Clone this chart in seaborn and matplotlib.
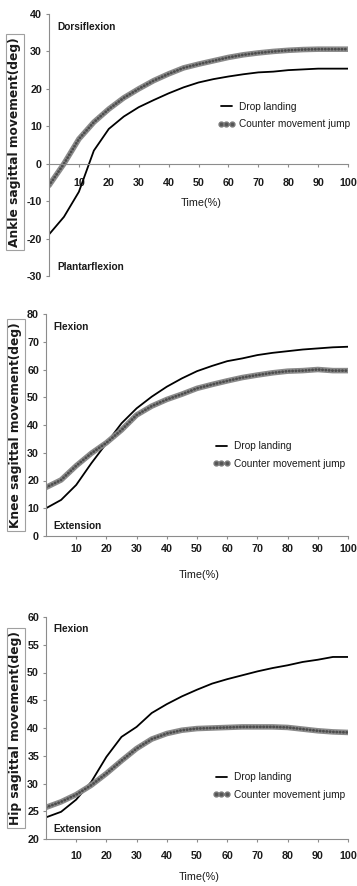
import matplotlib
matplotlib.use("Agg")
import matplotlib.pyplot as plt
import seaborn as sns
import pandas as pd
from matplotlib.lines import Line2D

# ---------------- data ----------------
time = [0, 5, 10, 15, 20, 25, 30, 35, 40, 45, 50, 55, 60, 65, 70, 75, 80, 85, 90, 95, 100]

ankle_drop = [-18.9, -14.2, -7.5, 3.5, 9.3, 12.6, 15.1, 17.0, 18.8, 20.4, 21.7,
              22.6, 23.3, 23.9, 24.4, 24.6, 25.0, 25.2, 25.4, 25.4, 25.4]
ankle_cmj = [-5.8, 0.0, 6.6, 11.1, 14.6, 17.6, 20.0, 22.2, 24.0, 25.6, 26.6,
             27.5, 28.4, 29.1, 29.6, 30.0, 30.3, 30.5, 30.6, 30.6, 30.6]

knee_drop = [10.0, 13.0, 18.4, 26.2, 33.4, 40.6, 46.0, 50.2, 53.8, 56.8, 59.4,
             61.3, 63.0, 64.0, 65.2, 66.0, 66.6, 67.2, 67.6, 68.0, 68.2]
knee_cmj = [17.5, 20.2, 25.3, 29.8, 33.6, 38.2, 43.6, 46.8, 49.2, 51.1, 53.2,
            54.6, 55.9, 57.1, 58.0, 58.8, 59.4, 59.6, 60.0, 59.6, 59.6]

hip_drop = [23.9, 24.9, 27.1, 30.3, 34.8, 38.4, 40.2, 42.7, 44.3, 45.7, 46.9,
            48.0, 48.8, 49.5, 50.2, 50.8, 51.3, 51.9, 52.3, 52.8, 52.8]
hip_cmj = [25.7, 26.7, 28.0, 29.7, 31.8, 34.1, 36.3, 38.0, 39.0, 39.6, 39.9,
           40.0, 40.1, 40.2, 40.2, 40.2, 40.1, 39.8, 39.5, 39.3, 39.2]

series_labels = ["Drop landing", "Counter movement jump"]
xticks = [10, 20, 30, 40, 50, 60, 70, 80, 90, 100]
ankle_yticks = [-30, -20, -10, 0, 10, 20, 30, 40]
knee_yticks = [0, 10, 20, 30, 40, 50, 60, 70, 80]
hip_yticks = [20, 25, 30, 35, 40, 45, 50, 55, 60]

ylabels = ["Ankle sagittal movement(deg)", "Knee sagittal movement(deg)",
           "Hip sagittal movement(deg)"]
top_notes = ["Dorsiflexion", "Flexion", "Flexion"]
bottom_notes = ["Plantarflexion", "Extension", "Extension"]

# ---------------- style ----------------
sns.set_theme(style="white")
plt.rcParams["font.family"] = ["Liberation Sans", "DejaVu Sans"]
plt.rcParams["axes.unicode_minus"] = False

W, H = 357, 886
fig = plt.figure(figsize=(W / 100, H / 100), dpi=100)

# pixel layout: (left, right, top, bottom)
layouts = [(49, 348, 14, 276), (46, 348, 314, 536), (46, 348, 617, 839)]
panels = [
    (ankle_drop, ankle_cmj, ankle_yticks),
    (knee_drop, knee_cmj, knee_yticks),
    (hip_drop, hip_cmj, hip_yticks),
]
xtick_pads = [7.5, 3.0, 6.0]
xlabel_y_px = [203, 575, 877]
ylabel_x_px = [15, 16, 16]
ylabel_y_px = [142, 425, 728]
legend_px = [(218, 115.5), (213, 455), (213, 786)]

axis_col = "#8c8c8c"
text_col = "#1a1a1a"

for i, ((drop, cmj, yticks), (l, r, t, b)) in enumerate(zip(panels, layouts)):
    ax = fig.add_axes([l / W, 1 - b / H, (r - l) / W, (b - t) / H])
    df = pd.DataFrame({"Time": time, "Drop": drop, "CMJ": cmj})

    sns.lineplot(data=df, x="Time", y="Drop", color="black", lw=1.3, ax=ax)
    sns.lineplot(data=df, x="Time", y="CMJ", color="#8a8a8a", lw=4.0, ax=ax)
    sns.lineplot(data=df, x="Time", y="CMJ", color="#4d4d4d", lw=2.0, ax=ax,
                 linestyle=(0, (0.1, 1.1)), dash_capstyle="round")

    ax.set_xlim(0, 100)
    ax.set_ylim(yticks[0], yticks[-1])
    ax.set_xticks(xticks)
    ax.set_yticks(yticks)

    for s in ["top", "right"]:
        ax.spines[s].set_visible(False)
    for s in ["left", "bottom"]:
        ax.spines[s].set_color(axis_col)
        ax.spines[s].set_linewidth(0.8)
    if i == 0:
        ax.spines["bottom"].set_position(("data", 0))

    ax.tick_params(axis="both", which="major", bottom=True, left=True,
                   direction="out", length=2.5, width=0.8, color=axis_col,
                   labelsize=7.7, labelcolor=text_col)
    ax.tick_params(axis="x", pad=xtick_pads[i])
    ax.tick_params(axis="y", pad=2.5)
    for lab in ax.get_xticklabels() + ax.get_yticklabels():
        lab.set_fontweight("bold")

    # x label
    ax.set_xlabel("Time(%)", fontsize=7.8, color=text_col)
    ax.xaxis.label.set_va("center")
    ax.xaxis.set_label_coords(0.508, (b - xlabel_y_px[i]) / (b - t))

    # y label in a box
    ax.set_ylabel(ylabels[i], fontsize=8.8, fontweight="bold", color=text_col,
                  family="DejaVu Sans",
                  bbox=dict(boxstyle="square,pad=0.22", fc="white",
                            ec="#a0a0a0", lw=0.8))
    ax.yaxis.label.set_va("center")
    ax.yaxis.set_label_coords((ylabel_x_px[i] - l) / (r - l),
                              (b - ylabel_y_px[i]) / (b - t))

    # region notes
    top_y = [27, 327, 629][i]
    bot_y = [267, 526, 829][i]
    note_x = [57, 53, 53][i]
    ax.text((note_x - l) / (r - l), (b - top_y) / (b - t), top_notes[i],
            transform=ax.transAxes, ha="left", va="center", fontsize=7.3,
            fontweight="bold", color=text_col)
    ax.text((note_x - l) / (r - l), (b - bot_y) / (b - t), bottom_notes[i],
            transform=ax.transAxes, ha="left", va="center", fontsize=7.3,
            fontweight="bold", color=text_col)

    # legend
    h_drop = Line2D([], [], color="black", lw=1.3)
    h_cmj = Line2D([], [], color="#8a8a8a", lw=1.8, marker="o", ms=3.5,
                   mfc="#555555", mec="#7a7a7a")
    lx, ly = legend_px[i]
    leg = ax.legend([h_drop, h_cmj], series_labels, loc="center left",
                    bbox_to_anchor=(lx / W, 1 - ly / H),
                    bbox_transform=fig.transFigure, frameon=False,
                    fontsize=7.3, handlelength=1.65, handletextpad=0.38,
                    labelspacing=0.75, borderpad=0, borderaxespad=0,
                    numpoints=3)
    for txt in leg.get_texts():
        txt.set_color(text_col)

fig.savefig("out.png", dpi=100, facecolor="white")
